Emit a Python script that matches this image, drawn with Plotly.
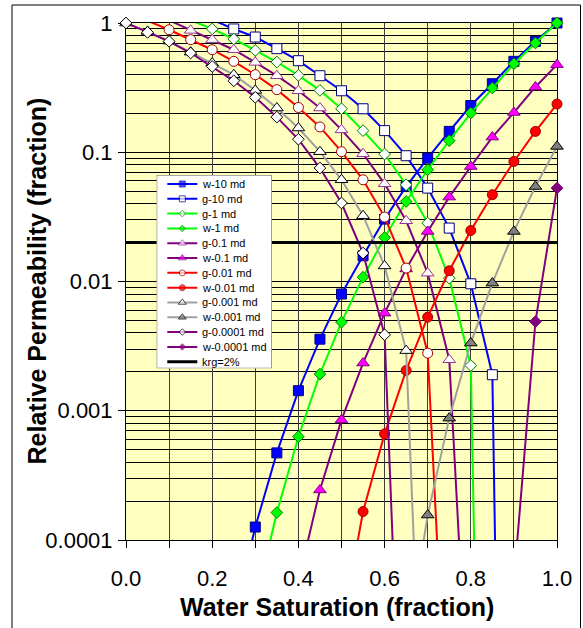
import plotly.graph_objects as go

# ---------------- data ----------------
sw = [0.00, 0.05, 0.10, 0.15, 0.20, 0.25, 0.30, 0.35, 0.40, 0.45, 0.50,
      0.55, 0.60, 0.65, 0.70, 0.75, 0.80, 0.85, 0.90, 0.95, 1.00]

w10 = [None, None, None, None, None, 2.5e-5, 1.26e-4, 4.72e-4, 1.43e-3, 3.58e-3, 8.0e-3,
       0.0158, 0.0304, 0.0543, 0.090, 0.145, 0.230, 0.339, 0.505, 0.721, 1.0]
g10 = [None, None, None, 1.2, 1.06, 0.899, 0.779, 0.633, 0.511, 0.391, 0.299,
       0.217, 0.147, 0.094, 0.0528, 0.0259, 0.0096, 0.0019, 1e-13, None, None]
g1 = [None, None, 1.25, 1.05, 0.90, 0.752, 0.614, 0.499, 0.393, 0.301, 0.217,
      0.147, 0.0968, 0.056, 0.0283, 0.0106, 0.00224, 4e-12, None, None, None]
w1 = [None, None, None, None, None, None, 3.2e-5, 1.63e-4, 6.3e-4, 1.92e-3, 4.85e-3,
      0.0108, 0.0219, 0.0416, 0.0732, 0.123, 0.201, 0.314, 0.484, 0.700, 1.0]
g01 = [None, 1.25, 1.05, 0.877, 0.743, 0.621, 0.496, 0.391, 0.299, 0.220, 0.149,
       0.0973, 0.057, 0.0295, 0.0116, 0.00248, 2e-6, None, None, None, None]
w01 = [None, None, None, None, None, None, None, None, 4.8e-5, 2.44e-4, 8.5e-4,
       2.34e-3, 5.69e-3, 0.0125, 0.0244, 0.045, 0.0776, 0.131, 0.203, 0.320, 0.476]
g001 = [1.2, 1.04, 0.887, 0.743, 0.621, 0.505, 0.398, 0.305, 0.222, 0.157, 0.101,
        0.0612, 0.0315, 0.0127, 0.00279, 1.3e-6, None, None, None, None, None]
w001 = [None, None, None, None, None, None, None, None, None, None, 2e-5,
        1.66e-4, 6.62e-4, 2.05e-3, 5.3e-3, 0.0121, 0.0248, 0.0469, 0.0849, 0.145, 0.236]
g0001 = [1.0, 0.861, 0.725, 0.595, 0.490, 0.398, 0.301, 0.220, 0.154, 0.101, 0.0612,
         0.0323, 0.0132, 0.00292, 2e-7, None, None, None, None, None, None]
w0001 = [None, None, None, None, None, None, None, None, None, None, None,
         None, None, 1.4e-5, 1.56e-4, 8.77e-4, 3.34e-3, 9.72e-3, 0.0244, 0.0543, 0.111]
g00001 = [1.0, 0.846, 0.721, 0.586, 0.461, 0.357, 0.266, 0.187, 0.126, 0.0755, 0.0405,
          0.0166, 0.00387, 2e-7, None, None, None, None, None, None, None]
w00001 = [None, None, None, None, None, None, None, None, None, None, None,
          None, None, None, None, None, None, None, 4.8e-5, 4.9e-3, 0.0528]

krg_x = [0.0, 1.0]
krg_y = [0.02, 0.02]

series_names = ["w-10 md", "g-10 md", "g-1 md", "w-1 md", "g-0.1 md", "w-0.1 md",
                "g-0.01 md", "w-0.01 md", "g-0.001 md", "w-0.001 md",
                "g-0.0001 md", "w-0.0001 md"]
series_values = [w10, g10, g1, w1, g01, w01, g001, w001, g0001, w0001, g00001, w00001]
krg_name = "krg=2%"

x_tick_vals = [0.0, 0.2, 0.4, 0.6, 0.8, 1.0]
x_tick_text = ["0.0", "0.2", "0.4", "0.6", "0.8", "1.0"]
x_minor_vals = [0.1, 0.3, 0.5, 0.7, 0.9]
y_tick_vals = [0.0001, 0.001, 0.01, 0.1, 1]
y_tick_text = ["0.0001", "0.001", "0.01", "0.1", "1"]

# ---------------- styles ----------------
BLUE, GREEN, PURPLE, RED, GREY = "#0000FF", "#00FF00", "#800080", "#FF0000", "#A0A0A0"
styles = [
    dict(line=BLUE, symbol="square", fill=BLUE, edge="#000080", size=10, lsize=6),
    dict(line=BLUE, symbol="square", fill="white", edge="#000080", size=10, lsize=6),
    dict(line=GREEN, symbol="diamond", fill="white", edge="#008000", size=9, lsize=5),
    dict(line=GREEN, symbol="diamond", fill=GREEN, edge="#008000", size=9, lsize=5),
    dict(line=PURPLE, symbol="triangle-up", fill="white", edge="#993399", size=11, lsize=7),
    dict(line=PURPLE, symbol="triangle-up", fill="#FF00FF", edge=PURPLE, size=11, lsize=7),
    dict(line=RED, symbol="circle", fill="white", edge="#A00000", size=10, lsize=6),
    dict(line=RED, symbol="circle", fill=RED, edge="#A00000", size=10, lsize=6),
    dict(line=GREY, symbol="triangle-up", fill="white", edge="black", size=11, lsize=7),
    dict(line=GREY, symbol="triangle-up", fill="#808080", edge="black", size=11, lsize=7),
    dict(line=PURPLE, symbol="diamond", fill="white", edge="black", size=9, lsize=5),
    dict(line=PURPLE, symbol="diamond", fill=PURPLE, edge=PURPLE, size=9, lsize=5),
]
FONT = "Liberation Sans, Arial, sans-serif"
YELLOW = "#FFFFC0"
VGRID = "#3C3C3C"

fig = go.Figure()

for name, vals, st in zip(series_names, series_values, styles):
    fig.add_trace(go.Scatter(
        x=sw, y=vals, name=name, mode="lines+markers",
        line=dict(color=st["line"], width=2),
        marker=dict(symbol=st["symbol"], size=st["size"], color=st["fill"],
                    line=dict(color=st["edge"], width=1)),
        cliponaxis=False, showlegend=False, hoverinfo="x+y+name"))

fig.add_trace(go.Scatter(x=krg_x, y=krg_y, name=krg_name, mode="lines",
                         line=dict(color="black", width=3), showlegend=False))

# ---------------- custom legend (compact rows like the original) ----------------
LEG_W, LEG_H = 115.0, 193.3
row0, row_step = 9.0, 14.81
line_x0, line_x1, mark_x, text_x = 10.6, 40.6, 25.6, 43.0
legend_names = series_names + [krg_name]
rows = [row0 + i * row_step for i in range(len(legend_names))]

fig.add_shape(type="rect", xref="x2", yref="y2", x0=0, x1=LEG_W, y0=0, y1=LEG_H,
              fillcolor="white", line=dict(color="#555555", width=1), layer="below")
for i, nm in enumerate(legend_names):
    if i < len(styles):
        col, wid = styles[i]["line"], 2
    else:
        col, wid = "black", 3
    fig.add_trace(go.Scatter(x=[line_x0, line_x1], y=[rows[i], rows[i]], mode="lines",
                             line=dict(color=col, width=wid), xaxis="x2", yaxis="y2",
                             showlegend=False, hoverinfo="skip"))
    fig.add_annotation(x=text_x, y=rows[i], xref="x2", yref="y2", text=nm,
                       showarrow=False, xanchor="left", yanchor="middle",
                       font=dict(family=FONT, size=11, color="black"))
fig.add_trace(go.Scatter(
    x=[mark_x] * len(styles), y=rows[:len(styles)], mode="markers",
    marker=dict(symbol=[s["symbol"] for s in styles], size=[s["lsize"] for s in styles],
                color=[s["fill"] for s in styles],
                line=dict(color=[s["edge"] for s in styles], width=1)),
    xaxis="x2", yaxis="y2", showlegend=False, hoverinfo="skip", cliponaxis=False))

# ---------------- layout ----------------
y_minor = [m * 10.0 ** k for k in range(-4, 0) for m in range(2, 10)]

# plot area: x 126..557 px, y 23..540 px
L, R, T, B = 126, 26, 23, 88
PW, PH = 583 - L - R, 628 - T - B


def px_x(px):
    return (px - L) / PW


def px_y(py):
    return (628 - B - py) / PH


fig.update_layout(
    width=583, height=628,
    margin=dict(l=L, r=R, t=T, b=B, pad=0),
    paper_bgcolor="white", plot_bgcolor=YELLOW,
    showlegend=False,
    font=dict(family=FONT, color="black"),
    xaxis=dict(range=[0, 1], tickmode="array", tickvals=x_tick_vals, ticktext=x_tick_text,
               ticks="outside", ticklen=7, tickcolor="black", tickwidth=1,
               showline=True, linecolor="black", linewidth=1, mirror=True,
               showgrid=True, gridcolor=VGRID, gridwidth=1.4, zeroline=False,
               minor=dict(tickmode="array", tickvals=x_minor_vals, showgrid=True,
                          gridcolor=VGRID, gridwidth=1.4, ticks="outside", ticklen=7,
                          tickcolor="black"),
               tickfont=dict(family=FONT, size=22), ticklabelstandoff=12,
               layer="below traces", fixedrange=True),
    yaxis=dict(type="log", range=[-4, 0], tickmode="array", tickvals=y_tick_vals,
               ticktext=y_tick_text, ticks="outside", ticklen=7, tickcolor="black",
               showline=True, linecolor="black", linewidth=1, mirror=True,
               showgrid=True, gridcolor="black", gridwidth=1, zeroline=False,
               minor=dict(tickmode="array", tickvals=y_minor, showgrid=True,
                          gridcolor="black", gridwidth=1, ticks=""),
               tickfont=dict(family=FONT, size=22), ticklabelstandoff=1,
               layer="below traces", fixedrange=True),
    xaxis2=dict(domain=[px_x(156.7), px_x(271.7)], range=[0, LEG_W], visible=False,
                anchor="y2", fixedrange=True),
    yaxis2=dict(domain=[px_y(368.3), px_y(175.0)], range=[LEG_H, 0], visible=False,
                anchor="x2", fixedrange=True),
)

# axis titles
fig.add_annotation(text="<b>Relative Permeability (fraction)</b>", textangle=-90,
                   xref="paper", yref="paper", x=px_x(36), y=0.5,
                   xanchor="center", yanchor="middle", showarrow=False,
                   font=dict(family=FONT, size=25, color="black"))
fig.add_annotation(text="<b>Water Saturation (fraction)</b>",
                   xref="paper", yref="paper", x=px_x(337), y=px_y(607),
                   xanchor="center", yanchor="middle", showarrow=False,
                   font=dict(family=FONT, size=25, color="black"))

# outer chart border
fig.add_shape(type="rect", xref="paper", yref="paper",
              x0=px_x(12), x1=px_x(580.5), y0=px_y(645), y1=px_y(5),
              line=dict(color="black", width=1), fillcolor="rgba(0,0,0,0)", layer="below")

fig.write_html("out.html", config={"displayModeBar": False},
               post_script="document.body.style.margin='0px';document.body.style.padding='0px';")
